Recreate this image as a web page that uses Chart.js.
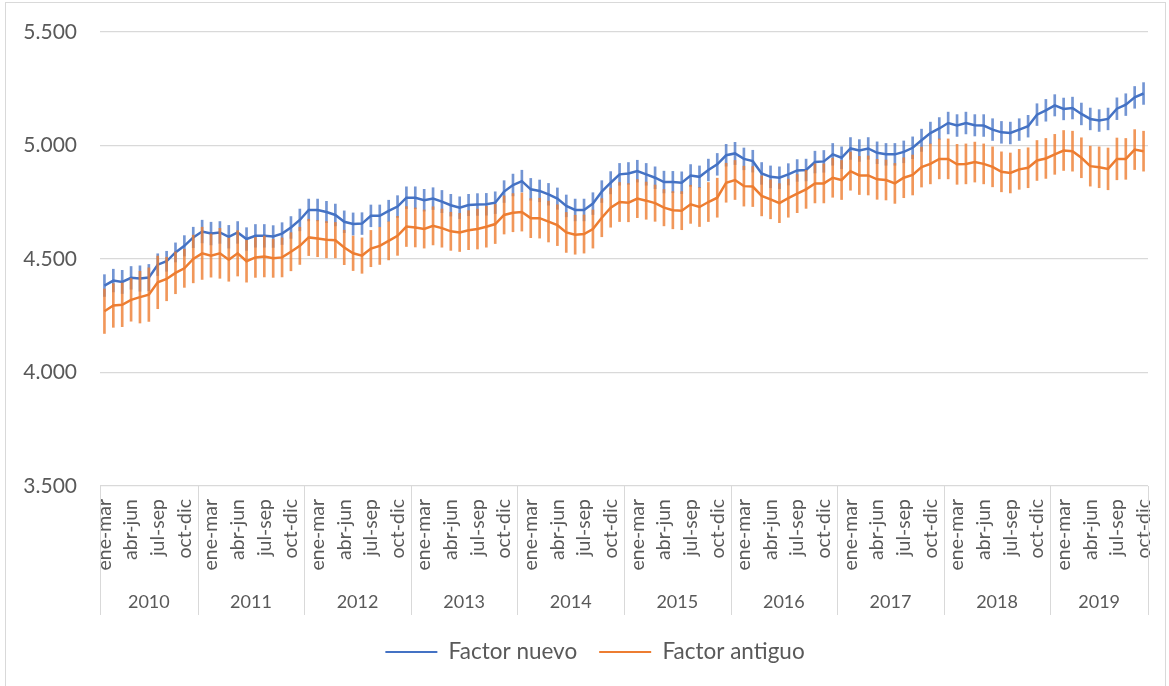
<!DOCTYPE html>
<html>
<head>
<meta charset="utf-8">
<script src="https://cdn.jsdelivr.net/npm/chart.js@4.4.1/dist/chart.umd.min.js"></script>
<style>
  html, body { margin: 0; padding: 0; background: #ffffff; }
  #wrap { position: relative; width: 1169px; height: 686px; overflow: hidden; background: #ffffff; }
  #frame { position: absolute; left: 5px; top: 2px; width: 1161px; height: 720px; border: 1px solid #d9d9d9; box-sizing: border-box; }
  canvas { position: absolute; left: 0; top: 0; }
</style>
</head>
<body>
<div id="wrap">
  <div id="frame"></div>
  <canvas id="c" width="1169" height="686"></canvas>
</div>
<script>
// ---- categories ----
const years = ['2010','2011','2012','2013','2014','2015','2016','2017','2018','2019'];
const periodCycle = ['dic-feb','ene-mar','feb-abr','mar-may','abr-jun','may-jul','jun-ago','jul-sep','ago-oct','sep-nov','oct-dic','nov-ene'];
const firstYearStart = 'ene-mar';
const lastYearEnd = 'oct-dic';

// ---- series values (rolling quarters) ----
const factorNuevo = [
  4383,4405,4399,4417,4414,4418,4475,4490,4529,4558,4595,
  4621,4612,4617,4598,4617,4588,4602,4602,4599,4612,4639,4672,
  4716,4716,4707,4694,4664,4654,4656,4690,4690,4712,4731,4770,
  4770,4759,4766,4753,4737,4726,4738,4740,4741,4748,4797,4826,
  4843,4807,4800,4785,4766,4734,4716,4716,4744,4797,4836,4873,
  4877,4887,4873,4858,4839,4839,4836,4868,4862,4892,4917,4957,
  4965,4941,4931,4877,4862,4858,4873,4890,4892,4927,4930,4961,
  4946,4987,4978,4987,4968,4961,4961,4972,4990,5023,5055,5075,
  5099,5088,5099,5089,5088,5070,5058,5055,5070,5085,5136,5155,
  5177,5161,5165,5139,5117,5110,5117,5162,5180,5212,5229
];
const factorAntiguo = [
  4270,4295,4298,4320,4332,4343,4397,4412,4439,4459,4500,
  4525,4515,4525,4497,4525,4490,4507,4511,4503,4507,4532,4558,
  4595,4590,4585,4583,4551,4525,4515,4546,4558,4580,4602,4643,
  4639,4632,4646,4636,4622,4617,4627,4632,4642,4654,4694,4704,
  4707,4680,4680,4665,4649,4617,4607,4610,4632,4682,4726,4751,
  4748,4766,4757,4746,4726,4715,4713,4741,4729,4751,4770,4836,
  4848,4821,4819,4778,4763,4746,4768,4788,4807,4833,4833,4858,
  4848,4887,4868,4868,4851,4848,4833,4858,4870,4905,4919,4941,
  4941,4917,4919,4927,4919,4906,4884,4879,4895,4902,4934,4943,
  4961,4978,4975,4946,4909,4904,4897,4941,4941,4982,4975
];
// half-width of the error bars
const errNuevo = [
  48,50,51,50,56,58,48,44,42,45,45,
  50,50,48,50,48,50,50,50,48,48,48,48,
  48,48,47,48,48,49,48,48,48,47,48,48,
  48,48,48,49,48,48,47,48,48,48,48,48,
  48,48,48,48,47,48,48,48,48,48,49,48,
  48,48,48,48,48,47,48,48,48,48,48,48,
  49,48,48,48,48,48,47,48,48,48,48,48,
  48,48,48,48,48,48,48,48,48,49,48,48,
  48,48,48,47,48,48,48,48,48,48,48,48,
  47,48,48,48,48,48,48,48,48,48,48
];
const errAntiguo = [
  98,96,96,94,114,118,116,96,92,84,105,
  115,95,110,95,100,92,88,90,84,86,84,82,
  80,80,80,78,76,76,78,80,82,84,86,88,
  86,84,84,84,84,84,86,88,90,86,84,84,
  84,86,88,90,90,88,86,84,84,84,86,86,
  84,84,82,80,80,82,84,84,86,86,86,86,
  86,88,88,88,86,86,84,84,84,86,86,86,
  86,84,84,86,88,88,88,88,88,88,88,88,
  88,88,88,88,88,88,88,88,88,88,88,88,
  88,88,88,88,88,90,92,92,90,88,88
];
const yTicks = { min: 3500, max: 5500, step: 500 };

// ---- build category table ----
const catPeriod = [];
const catYear = [];
years.forEach((y, yi) => {
  let started = yi > 0;
  for (const p of periodCycle) {
    if (!started) { if (p === firstYearStart) started = true; else continue; }
    catPeriod.push(p);
    catYear.push(y);
    if (yi === years.length - 1 && p === lastYearEnd) break;
  }
});

const BLUE = '#4472C4';
const ORANGE = '#ED7D31';
const FONT = 'Lato, "Open Sans", sans-serif';
const TXT = '#595959';

const fmt = v => String(v).replace(/\B(?=(\d{3})+(?!\d))/g, '.');

const yearGroups = {
  id: 'yearGroups',
  afterLayout(chart) {
    // centre the legend where the original places it
    if (chart.legend) { chart.legend.left += 42; }
  },
  afterDraw(chart) {
    const xs = chart.scales.x;
    const ca = chart.chartArea;
    const ctx = chart.ctx;
    const half = (xs.getPixelForValue(1) - xs.getPixelForValue(0)) / 2;
    ctx.save();
    ctx.strokeStyle = '#d9d9d9';
    ctx.lineWidth = 1;
    ctx.fillStyle = TXT;
    ctx.font = '18px ' + FONT;
    ctx.textAlign = 'center';
    ctx.textBaseline = 'middle';
    const bounds = [];
    years.forEach(y => {
      const first = catYear.indexOf(y);
      const last = catYear.lastIndexOf(y);
      const l = xs.getPixelForValue(first) - half;
      const r = xs.getPixelForValue(last) + half;
      bounds.push(l, r);
      ctx.fillText(y, (l + r) / 2, ca.bottom + 116);
    });
    const uniq = [...new Set(bounds.map(b => Math.round(b) + 0.5))];
    uniq.forEach(bx => {
      ctx.beginPath();
      ctx.moveTo(bx, ca.bottom);
      ctx.lineTo(bx, ca.bottom + 129);
      ctx.stroke();
    });
    ctx.restore();
  }
};

new Chart(document.getElementById('c'), {
  type: 'line',
  data: {
    labels: catPeriod,
    datasets: [
      { label: 'Factor nuevo', data: factorNuevo, borderColor: BLUE, backgroundColor: BLUE,
        borderWidth: 2.5, pointRadius: 0, tension: 0, order: 2 },
      { label: 'Factor antiguo', data: factorAntiguo, borderColor: ORANGE, backgroundColor: ORANGE,
        borderWidth: 2.5, pointRadius: 0, tension: 0, order: 0 },
      { type: 'bar', label: 'err1', data: factorNuevo.map((v, i) => [v - errNuevo[i], v + errNuevo[i]]),
        backgroundColor: 'rgba(68,114,196,0.75)', barThickness: 2, grouped: false, borderWidth: 0, order: 3 },
      { type: 'bar', label: 'err2', data: factorAntiguo.map((v, i) => [v - errAntiguo[i], v + errAntiguo[i]]),
        backgroundColor: 'rgba(237,125,49,0.8)', barThickness: 2, grouped: false, borderWidth: 0, order: 1 }
    ]
  },
  options: {
    responsive: false,
    animation: false,
    devicePixelRatio: 1,
    layout: { padding: { top: 32, right: 21, left: 0, bottom: 12.75 } },
    plugins: {
      tooltip: { enabled: false },
      legend: {
        position: 'bottom',
        labels: {
          font: { family: FONT, size: 22.5 },
          color: TXT,
          boxWidth: 52,
          boxHeight: 2,
          padding: 22,
          filter: item => item.text.indexOf('err') !== 0,
          sort: (a, b) => a.datasetIndex - b.datasetIndex,
          generateLabels: chart => Chart.defaults.plugins.legend.labels.generateLabels(chart)
            .map(it => Object.assign(it, { lineWidth: 0 }))
        }
      }
    },
    scales: {
      x: {
        type: 'category',
        offset: true,
        grid: { display: false, drawTicks: false },
        border: { display: false },
        ticks: {
          autoSkip: false,
          minRotation: 90,
          maxRotation: 90,
          padding: 13,
          color: TXT,
          font: { family: FONT, size: 19.5 },
          callback: (v, i) => (i % 3 === 0 ? catPeriod[i] : '')
        },
        afterFit: s => { s.height = 132.75; s.paddingLeft = 0; s.paddingRight = 0; }
      },
      y: {
        min: yTicks.min,
        max: yTicks.max,
        grid: { color: '#d9d9d9', lineWidth: 1.3, drawTicks: false },
        border: { display: false },
        ticks: {
          stepSize: yTicks.step,
          padding: 23,
          color: TXT,
          font: { family: FONT, size: 21 },
          callback: v => fmt(v)
        },
        afterFit: s => { s.width = 100; s.paddingTop = 0; s.paddingBottom = 0; }
      }
    }
  },
  plugins: [yearGroups]
});
</script>
</body>
</html>
